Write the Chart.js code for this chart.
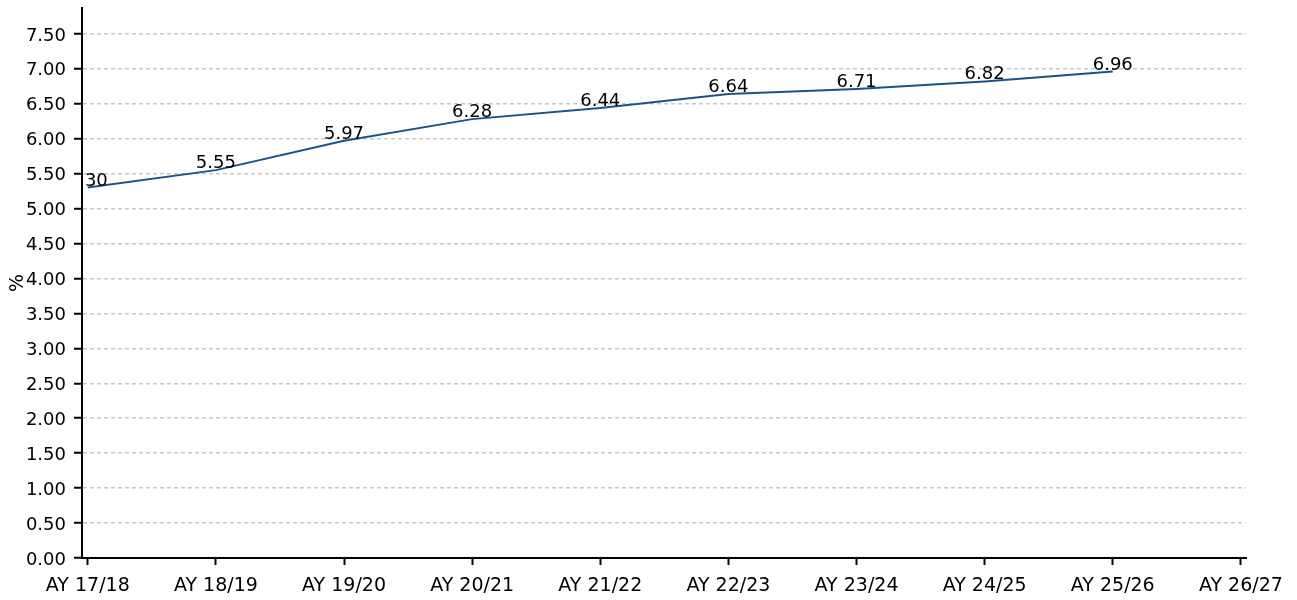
<!DOCTYPE html>
<html>
<head>
<meta charset="utf-8">
<script src="https://cdn.jsdelivr.net/npm/chart.js@4.4.1/dist/chart.umd.min.js"></script>
<style>
  html, body { margin: 0; padding: 0; background: #fff; }
  #wrap { width: 1297px; height: 600px; }
</style>
</head>
<body>
<div id="wrap"><canvas id="graphique"></canvas></div>
<script>
// données
const annees = ['AY 17/18', 'AY 18/19', 'AY 19/20', 'AY 20/21', 'AY 21/22',
                'AY 22/23', 'AY 23/24', 'AY 24/25', 'AY 25/26', 'AY 26/27'];
const valeurs = [5.30, 5.55, 5.97, 6.28, 6.44, 6.64, 6.71, 6.82, 6.96];
const ticksY = [0, 0.5, 1, 1.5, 2, 2.5, 3, 3.5, 4, 4.5, 5, 5.5, 6, 6.5, 7, 7.5];

const police = 'DejaVu Sans';

// étiquettes au-dessus des points, coupées au bord de la zone du graphique
const etiquettesPlugin = {
    id: 'etiquettes',
    afterDatasetsDraw(chart) {
        const ctx = chart.ctx;
        const zone = chart.chartArea;
        const meta = chart.getDatasetMeta(0);
        ctx.save();
        ctx.beginPath();
        ctx.rect(zone.left + 1, 0, zone.right - zone.left, zone.bottom);
        ctx.clip();
        ctx.font = '18px "' + police + '"';
        ctx.fillStyle = '#000';
        ctx.textAlign = 'center';
        ctx.textBaseline = 'alphabetic';
        meta.data.forEach((pt, i) => {
            ctx.fillText(valeurs[i].toFixed(2), pt.x, pt.y - 2);
        });
        ctx.restore();
    }
};

new Chart(document.getElementById('graphique'), {
    type: 'line',
    data: {
        datasets: [{
            data: valeurs.map((v, i) => ({ x: i, y: v })),
            borderColor: '#1b5286',
            borderWidth: 2,
            tension: 0,
            pointRadius: 0,
            fill: false
        }]
    },
    options: {
        responsive: true,
        maintainAspectRatio: false,
        animation: false,
        layout: { padding: { top: 8, right: 51, bottom: 0, left: 0 } },
        plugins: { legend: { display: false }, tooltip: { enabled: false } },
        scales: {
            x: {
                type: 'linear',
                min: -0.045,
                max: 9.04,
                afterBuildTicks: (axe) => {
                    axe.ticks = annees.map((a, i) => ({ value: i }));
                },
                afterFit: (axe) => { axe.height = 42; },
                ticks: {
                    color: '#000',
                    font: { family: police, size: 19 },
                    padding: 10,
                    maxRotation: 0,
                    autoSkip: false,
                    callback: (v) => annees[v]
                },
                grid: { drawOnChartArea: false, drawTicks: true, tickLength: 7, tickColor: '#000', tickWidth: 2 },
                border: { color: '#000', width: 2 }
            },
            y: {
                min: 0,
                max: 7.87,
                afterBuildTicks: (axe) => {
                    axe.ticks = ticksY.map(v => ({ value: v }));
                },
                afterFit: (axe) => {
                    axe.width = 82;
                    axe.paddingTop = 0;
                    axe.paddingBottom = 0;
                },
                ticks: {
                    color: '#000',
                    font: { family: police, size: 18 },
                    padding: 8,
                    labelOffset: 2,
                    callback: (v) => v.toFixed(2)
                },
                title: {
                    display: true,
                    text: '%',
                    color: '#000',
                    font: { family: police, size: 19 },
                    padding: { top: 7, bottom: 0 }
                },
                grid: { color: '#c8c8c8', lineWidth: 1.5, tickLength: 8, tickColor: '#000', tickWidth: 2 },
                border: { color: '#000', width: 2, dash: [4, 3] }
            }
        }
    },
    plugins: [etiquettesPlugin]
});
</script>
</body>
</html>
